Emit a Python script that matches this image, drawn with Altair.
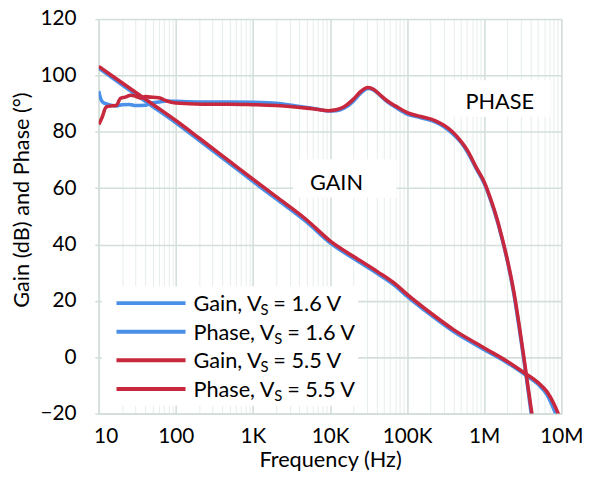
import altair as alt
import pandas as pd

# ---------------- data ----------------
gain_freq = [10, 20, 50, 100, 200, 500, 1e3, 2e3, 5e3, 1e4, 2e4, 4.2e4, 7e4, 1e5,
             2e5, 4e5, 1e6, 2e6, 3.3e6, 5e6, 6.5e6, 8e6, 9.3e6]
gain_55v = [103.2, 97.4, 89.8, 84.0, 77.8, 69.5, 63.2, 57.0, 48.7, 41.3, 35.8, 30.2,
            26.0, 22.3, 15.8, 9.8, 3.3, -1.5, -5.5, -9.0, -12.2, -16.5, -20.6]
gain_16v = [102.6, 96.7, 89.0, 83.2, 77.0, 68.7, 62.4, 56.2, 47.9, 40.6, 35.1, 29.5,
            25.3, 21.6, 15.1, 9.1, 2.7, -2.0, -6.0, -9.6, -13.3, -18.5, -23.0]

phase55_freq = [10, 11, 12.5, 15, 17, 19, 22, 26, 30, 35, 40, 47, 55, 62, 75, 100, 220, 500,
                1e3, 2e3, 3e3, 5e3, 7e3, 9.5e3, 12e3, 15e3, 20e3, 25e3, 31e3, 37e3, 45e3,
                55e3, 70e3, 1e5, 1.5e5, 2.3e5, 3e5, 3.8e5, 5e5, 6e5, 8e5, 1e6, 1.2e6,
                1.47e6, 1.7e6, 2e6, 2.43e6, 2.8e6, 3.26e6, 3.7e6, 4.2e6]
phase_55v = [82.6, 85.0, 88.8, 89.2, 89.4, 91.8, 92.3, 93.0, 92.6, 92.0, 92.5, 92.3, 92.2,
             92.0, 91.0, 90.2, 89.8, 89.8, 89.6, 89.3, 89.0, 88.4, 87.9, 87.5, 87.8, 88.8,
             91.5, 94.3, 95.7, 95.0, 93.0, 91.0, 89.2, 86.8, 85.4, 84.0, 82.3, 80.2, 76.6,
             73.6, 67.0, 62.2, 56.5, 49.0, 42.5, 34.5, 23.0, 12.5, 0.2, -10.6, -21.0]

phase16_freq = [10, 10.5, 11.5, 13, 15, 17, 20, 25, 30, 40, 47, 60, 75, 100, 200, 500,
                1e3, 2e3, 3e3, 5e3, 7e3, 9.5e3, 12e3, 15e3, 20e3, 25e3, 31e3, 37e3, 45e3,
                55e3, 70e3, 1e5, 1.5e5, 2.3e5, 3e5, 3.8e5, 5e5, 6e5, 8e5, 1e6, 1.2e6,
                1.47e6, 1.7e6, 2e6, 2.43e6, 2.8e6, 3.26e6, 3.7e6, 4.2e6]
phase_16v = [94.4, 92.0, 90.3, 89.8, 89.3, 89.2, 89.6, 89.7, 89.3, 89.4, 90.1, 90.6, 90.9,
             90.8, 90.6, 90.6, 90.5, 90.1, 89.5, 88.6, 88.0, 87.4, 87.5, 88.3, 90.8, 93.7,
             95.4, 94.8, 92.8, 90.7, 88.8, 86.3, 85.0, 83.5, 81.8, 79.6, 76.2, 73.0, 66.6,
             61.6, 56.0, 48.5, 42.0, 34.0, 22.2, 11.5, -0.8, -11.5, -23.0]

series_names = ["Gain, VS = 1.6 V", "Phase, VS = 1.6 V", "Gain, VS = 5.5 V", "Phase, VS = 5.5 V"]
legend_kinds = ["Gain", "Phase", "Gain", "Phase"]
legend_supplies = ["1.6 V", "1.6 V", "5.5 V", "5.5 V"]

x_tick_values = [10, 100, 1000, 10000, 100000, 1000000, 10000000]
x_tick_labels = ["10", "100", "1K", "10K", "100K", "1M", "10M"]
y_tick_values = [-20, 0, 20, 40, 60, 80, 100, 120]
annotations = ["GAIN", "PHASE"]

# ---------------- styles ----------------
BLUE = "#4a8fe8"
RED = "#c8283e"
GRID_MAJOR = "#d3dfd9"
GRID_MINOR = "#e7efeb"
FONT = "Lato"
FS_TICK = 21
FS = 22

rows = []
for name, fr, vals in [(series_names[0], gain_freq, gain_16v),
                       (series_names[1], phase16_freq, phase_16v),
                       (series_names[2], gain_freq, gain_55v),
                       (series_names[3], phase55_freq, phase_55v)]:
    for f, v in zip(fr, vals):
        rows.append({"series": name, "freq": f, "value": v})
df = pd.DataFrame(rows)

grid_ticks = [m * d for d in x_tick_values[:-1] for m in range(1, 10)] + [x_tick_values[-1]]
major_list = "[" + ",".join(str(v) for v in x_tick_values) + "]"
major_test = f"indexof({major_list}, datum.value) >= 0"
label_expr = " : ".join(f"datum.value == {v} ? '{l}'" for v, l in zip(x_tick_values, x_tick_labels)) + " : ''"

color_scale = alt.Scale(domain=series_names, range=[BLUE, BLUE, RED, RED])

x_enc = alt.X(
    "freq:Q",
    scale=alt.Scale(type="log", domain=[10, 1e7]),
    axis=alt.Axis(
        values=grid_ticks,
        labelExpr=label_expr,
        labelOverlap=False,
        labelFlush=False,
        labelOffset={"condition": {"test": "datum.value == 10", "value": 7}, "value": 0},
        gridColor={"condition": {"test": major_test, "value": GRID_MAJOR}, "value": GRID_MINOR},
        gridWidth={"condition": {"test": major_test, "value": 1.6}, "value": 1.1},
        ticks=False,
        domainColor=GRID_MAJOR,
        domainWidth=1.6,
        labelFont=FONT,
        labelFontSize=FS_TICK,
        labelColor="black",
        labelPadding=12,
        title="Frequency (Hz)",
        titleFont=FONT,
        titleFontSize=FS,
        titleFontWeight="normal",
        titleColor="black",
        titleY=54,
        titleBaseline="alphabetic",
    ),
)
y_enc = alt.Y(
    "value:Q",
    scale=alt.Scale(domain=[-20, 120], nice=False, zero=False),
    axis=alt.Axis(
        values=y_tick_values,
        gridColor=GRID_MAJOR,
        gridWidth=1.6,
        tickColor=GRID_MAJOR,
        tickSize=4,
        tickWidth=1.6,
        domainColor=GRID_MAJOR,
        domainWidth=1.6,
        labelFont=FONT,
        labelFontSize=FS_TICK,
        labelColor="black",
        labelPadding=19,
        title="Gain (dB) and Phase (°)",
        titleFont=FONT,
        titleFontSize=FS,
        titleFontWeight="normal",
        titleColor="black",
        titleX=-71,
        titleY=183,
        titleBaseline="alphabetic",
    ),
)

base = alt.Chart(df)
line_layers = []
for name in series_names:
    line_layers.append(
        base.transform_filter(alt.datum.series == name)
        .mark_line(strokeWidth=3.6, clip=True, interpolate="monotone")
        .encode(x=x_enc, y=y_enc,
                color=alt.Color("series:N", scale=color_scale, legend=None))
    )

one = alt.Data(values=[{"k": 1}])

def white_box(x1, x2, y1, y2):
    return alt.Chart(one).mark_rect(color="white").encode(
        x=alt.value(x1), x2=alt.value(x2), y=alt.value(y1), y2=alt.value(y2))

def label(txt, x, y):
    return alt.Chart(alt.Data(values=[{"t": txt}])).mark_text(
        font=FONT, fontSize=FS, color="black", align="center", baseline="middle"
    ).encode(x=alt.value(x), y=alt.value(y), text="t:N")

boxes = [white_box(197, 302, 142, 181), white_box(357, 458, 62, 99),
         white_box(3, 263, 271, 392)]
ann = [label(annotations[0], 241, 166), label(annotations[1], 406.5, 84.5)]

leg_df = pd.DataFrame({"row": [0, 1, 2, 3], "kind": legend_kinds,
                       "supply": legend_supplies, "series": series_names})
leg = alt.Chart(leg_df).transform_calculate(
    ly="288 + datum.row * 29",
    a="datum.kind + ', V'",
    c="'= ' + datum.supply",
    sx="96 + (datum.kind == 'Gain' ? 68 : 82)",
)
leg_lines = leg.mark_rule(strokeWidth=4).encode(
    x=alt.value(18), x2=alt.value(88), y=alt.Y("ly:Q", scale=None),
    color=alt.Color("series:N", scale=color_scale, legend=None))
leg_a = leg.mark_text(font=FONT, fontSize=FS, align="left", baseline="alphabetic", dy=8,
                      color="black").encode(x=alt.value(96), y=alt.Y("ly:Q", scale=None), text="a:N")
leg_s = leg.mark_text(font=FONT, fontSize=15, align="left", baseline="alphabetic", dy=12,
                      color="black").encode(x=alt.X("sx:Q", scale=None), y=alt.Y("ly:Q", scale=None),
                                            text=alt.value("S"))
leg_c = leg.transform_calculate(cx="datum.sx + 13").mark_text(
    font=FONT, fontSize=FS, align="left", baseline="alphabetic", dy=8, color="black"
).encode(x=alt.X("cx:Q", scale=None), y=alt.Y("ly:Q", scale=None), text="c:N")

chart = alt.layer(*boxes, *ann, *line_layers, leg_lines, leg_a, leg_s, leg_c).properties(
    width=469, height=400,
    padding={"left": 92, "top": 8, "right": 24, "bottom": 57},
    autosize=alt.AutoSizeParams(type="none"),
).configure_view(stroke=None).configure(background="white")

chart.save("out.html", embed_options={"renderer": "svg", "actions": False})
